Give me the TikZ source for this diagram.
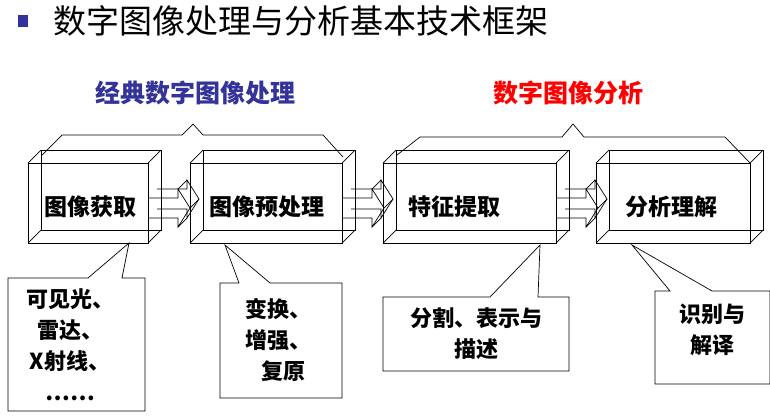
\documentclass[tikz,border=0pt]{standalone}
\usepackage{fontspec}
\newfontfamily\cjk{Noto Sans CJK SC}
\usepackage{tikz}
\newcommand{\blockbox}[3]{% name, left, right
  \draw (#2,-163)rectangle(#3,-243);
  \draw (#2+13,-150)rectangle(#3+13,-230);
  \draw (#2,-163)--++(13,13) (#3,-163)--++(13,13)
        (#2,-243)--++(13,13) (#3,-243)--++(13,13);
  \node[stage] (#1) at ({(#2+#3)/2},-207) {};}
\newcommand{\blockarrow}[1]{% left end
  \foreach \d in {0,9}{
  \draw ({#1+\d},{-198+\d})--++(30,0)--++(0,9)--++(12,-19)--++(-12,-19)--++(0,9)--++(-30,0);}
  \draw (#1+30,-189)--++(9,9) (#1+42,-208)--++(9,9) (#1+30,-227)--++(9,9);}
\definecolor{navy}{RGB}{51,51,153}
\begin{document}
\begin{tikzpicture}[x=1pt,y=1pt,line width=0.7pt,
  stage/.style={inner sep=0pt},
  lbl/.style={font=\cjk\fontsize{23}{26}\selectfont\bfseries},
  note/.style={font=\cjk\fontsize{22}{31}\selectfont\bfseries,align=center}]
\useasboundingbox (0,0) rectangle (770,-418);
% title
\fill[navy] (18,-15) rectangle (28,-27);
\node[anchor=west,font=\cjk\fontsize{33}{36}\selectfont] (title) at (50,-21) {数字图像处理与分析基本技术框架};
\node[font=\cjk\fontsize{25}{28}\selectfont\bfseries,text=navy] (classic) at (195,-93) {经典数字图像处理};
\node[font=\cjk\fontsize{25}{28}\selectfont\bfseries,text=red] (analysis) at (568,-93) {数字图像分析};
% braces
\draw (42,-155)--(62,-135)--(182,-135)--(193,-124)--(203,-135)--(323,-135)--(343,-157);
\draw (397,-155)--(420,-137)--(562,-137)--(573,-124)--(584,-137)--(725,-137)--(750,-163);
% stages
\blockbox{acq}{28}{148}
\blockbox{pre}{190}{342}
\blockbox{feat}{383}{556}
\blockbox{und}{596}{750}
\node[lbl] at ([xshift=2pt]acq) {图像获取};
\node[lbl] at ([xshift=1pt]pre) {图像预处理};
\node[lbl] at ([xshift=-15pt]feat) {特征提取};
\node[lbl] at ([xshift=-2pt]und) {分析理解};
\blockarrow{148}
\blockarrow{342}
\blockarrow{556}
% notes
\draw (88,-278)--(8,-278)--(8,-411)--(145,-411)--(145,-278)--(122,-278)--(129,-243)--cycle;
\node[note] (n1) at (70,-345) {可见光、\\雷达、\\X射线、\\……};
\draw (239,-283)--(220,-283)--(220,-398)--(342,-398)--(342,-283)--(270,-283)--(225,-245)--cycle;
\node[note] (n2) at (278,-340) {变换、\\增强、\\\ \ 复原};
\draw (490,-297)--(383,-297)--(383,-371)--(569,-371)--(569,-297)--(538,-297)--(540,-245)--cycle;
\node[note] (n3) at (476,-334) {分割、表示与\\描述};
\draw (670,-291)--(655,-291)--(655,-384)--(770,-384)--(770,-291)--(712,-291)--(632,-245)--cycle;
\node[note] (n4) at (712,-330) {识别与\\解译};
\end{tikzpicture}
\end{document}
